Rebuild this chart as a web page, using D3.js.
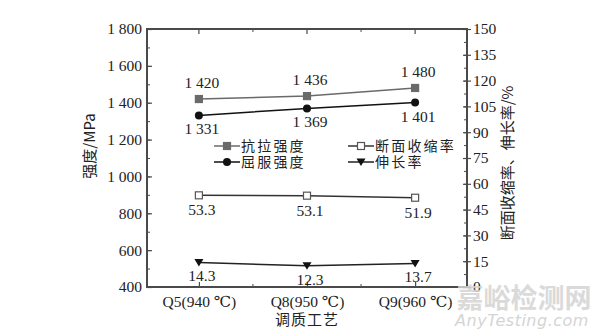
<!DOCTYPE html>
<html>
<head>
<meta charset="utf-8">
<script src="https://cdn.jsdelivr.net/npm/d3@7"></script>
<style>
  body { margin: 0; background: #fff; }
  svg text { fill: #222; }
</style>
</head>
<body>
<div id="chart"></div>
<script>
// data
var categories = ["Q5(940 ℃)", "Q8(950 ℃)", "Q9(960 ℃)"];
var tensile = [1420, 1436, 1480];      // 抗拉强度, left axis
var yieldStr = [1331, 1369, 1401];     // 屈服强度, left axis
var reduction = [53.3, 53.1, 51.9];    // 断面收缩率, right axis
var elongation = [14.3, 12.3, 13.7];   // 伸长率, right axis
var leftTicks = [400, 600, 800, 1000, 1200, 1400, 1600, 1800];
var rightTicks = [0, 15, 30, 45, 60, 75, 90, 105, 120, 135, 150];

// set the dimensions and margins of the graph
var margin = { top: 29, right: 133, bottom: 49, left: 147 },
  width = 600 - margin.left - margin.right,
  height = 336 - margin.top - margin.bottom;

var serif = "'Liberation Serif', 'DejaVu Serif', serif";
var cjk = "'Noto Sans CJK SC', sans-serif";

var x = d3.scalePoint().domain(categories).range([0, width]).padding(0.48);
var yL = d3.scaleLinear().domain([400, 1800]).range([height, 0]);
var yR = d3.scaleLinear().domain([0, 150]).range([height, 0]);

var fmt = function (v) {
  // thousands separated by a space, like the figure
  return v >= 1000 ? Math.floor(v / 1000) + " " + d3.format("03d")(v % 1000) : String(v);
};

var svg = d3.select("#chart").append("svg")
  .attr("width", 600)
  .attr("height", 336)
  .append("g")
  .attr("transform", "translate(" + margin.left + "," + margin.top + ")");

var axisColor = "#4a4a4a";

// minor ticks first
var minorL = d3.range(400, 1801, 100);
var minorR = d3.range(0, 150.1, 7.5);

svg.append("g")
  .call(d3.axisLeft(yL).tickValues(minorL).tickSize(-3).tickFormat(""))
  .call(function (g) { g.select(".domain").remove(); g.selectAll("line").attr("stroke", axisColor); });

svg.append("g")
  .attr("transform", "translate(" + width + ",0)")
  .call(d3.axisRight(yR).tickValues(minorR).tickSize(-3).tickFormat(""))
  .call(function (g) { g.select(".domain").remove(); g.selectAll("line").attr("stroke", axisColor); });

// Add the left Y Axis
svg.append("g")
  .call(d3.axisLeft(yL).tickValues(leftTicks).tickSizeInner(-5).tickSizeOuter(0).tickPadding(5).tickFormat(fmt))
  .call(function (g) {
    g.select(".domain").remove();
    g.selectAll("line").attr("stroke", axisColor).attr("stroke-width", 1.2);
    g.selectAll("text").style("font-family", serif).style("font-size", "15.5px").attr("fill", "#222");
  });

// Add the right Y Axis
svg.append("g")
  .attr("transform", "translate(" + width + ",0)")
  .call(d3.axisRight(yR).tickValues(rightTicks).tickSizeInner(4).tickSizeOuter(0).tickPadding(2))
  .call(function (g) {
    g.select(".domain").remove();
    g.selectAll("line").attr("stroke", axisColor).attr("stroke-width", 1.2).attr("x1", -4);
    g.selectAll("text").style("font-family", serif).style("font-size", "15.5px").attr("fill", "#222");
  });

// x ticks, bottom and top, with minor ticks between categories
var step = x.step();
var xMinor = categories.slice(0, -1).map(function (c) { return x(c) + step / 2; });

var xb = svg.append("g")
  .attr("transform", "translate(0," + height + ")")
  .call(d3.axisBottom(x).tickSizeInner(-5).tickSizeOuter(0).tickPadding(9))
  .call(function (g) {
    g.select(".domain").remove();
    g.selectAll("line").attr("stroke", axisColor).attr("stroke-width", 1.2);
    g.selectAll("text").style("font-family", serif).style("font-size", "15.5px").attr("fill", "#222");
  });
xb.selectAll(".minor").data(xMinor).enter().append("line")
  .attr("x1", function (d) { return d; }).attr("x2", function (d) { return d; })
  .attr("y1", 0).attr("y2", -3).attr("stroke", axisColor);

var xt = svg.append("g");
xt.selectAll(".major").data(categories).enter().append("line")
  .attr("x1", function (d) { return x(d); }).attr("x2", function (d) { return x(d); })
  .attr("y1", 0).attr("y2", 5).attr("stroke", axisColor).attr("stroke-width", 1.2);
xt.selectAll(".minor").data(xMinor).enter().append("line")
  .attr("x1", function (d) { return d; }).attr("x2", function (d) { return d; })
  .attr("y1", 0).attr("y2", 3).attr("stroke", axisColor);

// frame
svg.append("rect")
  .attr("width", width).attr("height", height)
  .attr("fill", "none").attr("stroke", axisColor).attr("stroke-width", 2);

// series
var series = [
  { name: "抗拉强度", values: tensile, y: yL, line: "#6a6a6a", marker: "square", fill: "#6a6a6a", stroke: "#6a6a6a", labelDy: -11 },
  { name: "屈服强度", values: yieldStr, y: yL, line: "#111", marker: "circle", fill: "#111", stroke: "#111", labelDy: 19 },
  { name: "断面收缩率", values: reduction, y: yR, line: "#333", marker: "square", fill: "#fff", stroke: "#555", labelDy: 20 },
  { name: "伸长率", values: elongation, y: yR, line: "#222", marker: "triangle", fill: "#111", stroke: "#111", labelDy: 19 }
];

function drawMarker(g, s, cx, cy) {
  if (s.marker === "square") {
    g.append("rect").attr("x", cx - 3.5).attr("y", cy - 3.5).attr("width", 7).attr("height", 7)
      .attr("fill", s.fill).attr("stroke", s.stroke).attr("stroke-width", 1.2);
  } else if (s.marker === "circle") {
    g.append("circle").attr("cx", cx).attr("cy", cy).attr("r", 4).attr("fill", s.fill);
  } else {
    g.append("path").attr("d", "M" + (cx - 4.5) + "," + (cy - 3.5) + "L" + (cx + 4.5) + "," + (cy - 3.5) + "L" + cx + "," + (cy + 4) + "Z")
      .attr("fill", s.fill);
  }
}

series.forEach(function (s) {
  var line = d3.line()
    .x(function (d, i) { return x(categories[i]); })
    .y(function (d) { return s.y(d); });
  svg.append("path")
    .datum(s.values)
    .attr("d", line)
    .attr("fill", "none")
    .attr("stroke", s.line)
    .attr("stroke-width", 1.5);

  s.values.forEach(function (v, i) {
    drawMarker(svg, s, x(categories[i]), s.y(v));
    svg.append("text")
      .attr("x", x(categories[i]) + 3)
      .attr("y", s.y(v) + s.labelDy)
      .attr("text-anchor", "middle")
      .style("font-family", serif)
      .style("font-size", "15.5px")
      .text(s.y === yL ? fmt(v) : d3.format(".1f")(v));
  });
});

// legend, two columns
var legendPos = [[67, 117], [201, 117], [67, 133], [201, 133]];
var legendOrder = [0, 2, 1, 3];
legendOrder.forEach(function (si, k) {
  var s = series[si];
  var lx = legendPos[k][0], ly = legendPos[k][1];
  var lg = svg.append("g");
  lg.append("line").attr("x1", lx).attr("x2", lx + 26).attr("y1", ly).attr("y2", ly)
    .attr("stroke", s.line).attr("stroke-width", 1.5);
  drawMarker(lg, s, lx + 13, ly);
  lg.append("text")
    .attr("x", lx + 27).attr("y", ly + 5)
    .style("font-family", cjk).style("font-size", "14px").style("letter-spacing", "2.2px")
    .text(s.name);
});

// axis titles
svg.append("text")
  .attr("transform", "translate(" + (-52) + "," + (height / 2 - 12) + ") rotate(-90)")
  .attr("text-anchor", "middle")
  .style("font-family", cjk).style("font-size", "15px")
  .text("强度/MPa");

svg.append("text")
  .attr("transform", "translate(" + (width + 46) + "," + (height / 2 + 5) + ") rotate(-90)")
  .attr("text-anchor", "middle")
  .style("font-family", cjk).style("font-size", "15px")
  .text("断面收缩率、伸长率/%");

svg.append("text")
  .attr("x", width / 2).attr("y", height + 38)
  .attr("text-anchor", "middle")
  .style("font-family", cjk).style("font-size", "15px").style("letter-spacing", "1px")
  .text("调质工艺");

// watermark
var root = d3.select("#chart svg");
root.append("text")
  .attr("x", 524).attr("y", 308).attr("text-anchor", "middle")
  .style("font-family", cjk).style("font-size", "27px").style("font-weight", "bold")
  .style("fill", "#d4d4d4").style("opacity", 0.85)
  .text("嘉峪检测网");
root.append("text")
  .attr("x", 522).attr("y", 326).attr("text-anchor", "middle")
  .style("font-family", "'DejaVu Sans', sans-serif").style("font-size", "16px").style("font-style", "italic")
  .style("letter-spacing", "0.5px").style("fill", "#d4d4d4")
  .text("AnyTesting.com");
</script>
</body>
</html>
